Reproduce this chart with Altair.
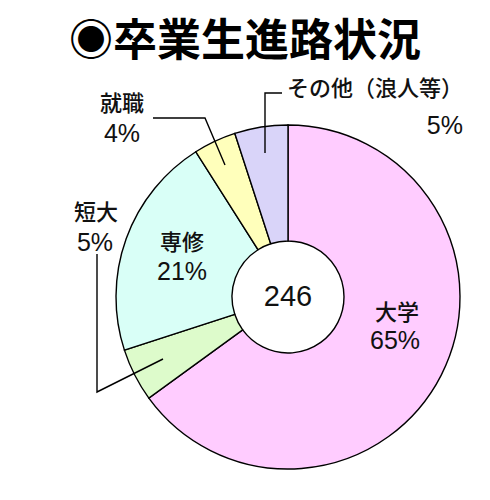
import altair as alt
import pandas as pd

# ---- data ----
CATEGORIES = ["大学", "短大", "専修", "就職", "その他（浪人等）"]
PERCENTS = [65, 5, 21, 4, 5]
COLORS = ["#FFCCFF", "#DDFBCB", "#D9FFF7", "#FFFFBB", "#D9D4F9"]
TOTAL = 246
TITLE = "◉卒業生進路状況"

# ---- layout (page pixel coordinates of annotations) ----
M = 8  # page margin
CX, CY = 288, 297
R_OUT, R_IN = 172, 56

# (name line pos, percent line pos, align of percent)
LABEL_LAYOUT = {
    "大学": ((397, 313, "center"), (395, 341, "center")),
    "短大": ((96, 213, "center"), (95, 243, "center")),
    "専修": ((182, 243, "center"), (182, 272, "center")),
    "就職": ((122, 104, "center"), (122, 134, "center")),
    "その他（浪人等）": ((375, 89, "center"), (463, 126, "right")),
}
LEADERS = {
    "就職": [(153, 118), (205, 118), (225, 165)],
    "その他（浪人等）": [(282, 93), (265, 93), (265, 153)],
    "短大": [(97, 254), (97, 392), (163, 359)],
}

JP_FONT = "Noto Sans CJK JP"
NUM_FONT = "Liberation Sans"

slices = pd.DataFrame({
    "cat": CATEGORIES,
    "value": PERCENTS,
    "order": list(range(len(CATEGORIES))),
})

pie = alt.Chart(slices).mark_arc(
    outerRadius=R_OUT, innerRadius=R_IN, stroke="black", strokeWidth=1.4
).encode(
    theta=alt.Theta("value:Q", stack=True),
    order=alt.Order("order:Q"),
    color=alt.Color("cat:N", scale=alt.Scale(domain=CATEGORIES, range=COLORS), legend=None),
    x=alt.value(CX - M),
    y=alt.value(CY - M),
)

rows = []
for cat, pct in zip(CATEGORIES, PERCENTS):
    (nx, ny, na), (px, py, pa) = LABEL_LAYOUT[cat]
    rows.append({"t": cat, "x": nx - M, "y": ny - M, "a": na, "kind": "name"})
    rows.append({"t": f"{pct}%", "x": px - M, "y": py - M, "a": pa, "kind": "pct"})
labels = pd.DataFrame(rows)

def text_layer(df, align, size, weight, font):
    return alt.Chart(df).mark_text(
        align=align, baseline="middle", fontSize=size, font=font,
        fontWeight=weight, color="#111111"
    ).encode(
        x=alt.X("x:Q", scale=None, axis=None),
        y=alt.Y("y:Q", scale=None, axis=None),
        text="t:N",
    )

name_c = text_layer(labels[(labels.kind == "name")], "center", 22, 500, JP_FONT)
pct_c = text_layer(labels[(labels.kind == "pct") & (labels.a == "center")], "center", 25, 400, NUM_FONT)
pct_r = text_layer(labels[(labels.kind == "pct") & (labels.a == "right")], "right", 25, 400, NUM_FONT)

center_df = pd.DataFrame({"t": [str(TOTAL)], "x": [CX - M], "y": [CY - M]})
center_txt = text_layer(center_df, "center", 29, 400, NUM_FONT)

title_df = pd.DataFrame({"t": [TITLE], "x": [245 - M], "y": [43 - M]})
title_txt = alt.Chart(title_df).mark_text(
    align="center", baseline="middle", fontSize=44, font=JP_FONT,
    fontWeight="bold", color="black"
).encode(
    x=alt.X("x:Q", scale=None, axis=None),
    y=alt.Y("y:Q", scale=None, axis=None),
    text="t:N",
)

lrows = []
for cat, pts in LEADERS.items():
    for i, (x, y) in enumerate(pts):
        lrows.append({"seg": cat, "i": i, "x": x - M, "y": y - M})
lines = alt.Chart(pd.DataFrame(lrows)).mark_line(
    color="black", strokeWidth=1.4
).encode(
    x=alt.X("x:Q", scale=None, axis=None),
    y=alt.Y("y:Q", scale=None, axis=None),
    detail="seg:N",
    order="i:Q",
)

chart = alt.layer(pie, lines, name_c, pct_c, pct_r, center_txt, title_txt).properties(
    width=474, height=484, padding=0, autosize="none", background="white"
).configure_view(stroke=None)

chart.save("out.html", embed_options={"renderer": "svg", "actions": False})
